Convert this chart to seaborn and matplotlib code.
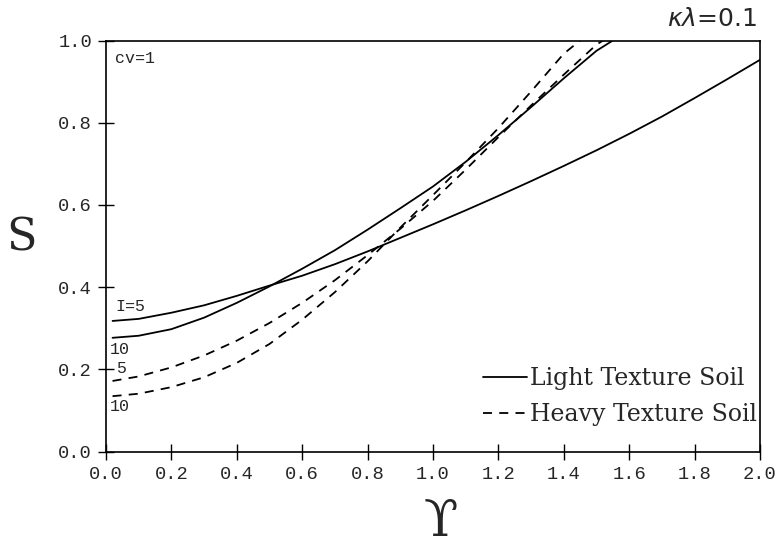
import numpy as np
import pandas as pd
import matplotlib
matplotlib.use("Agg")
import matplotlib.pyplot as plt
import seaborn as sns
from matplotlib.lines import Line2D

# ---- data ----
x_light5 = [0.02, 0.1, 0.2, 0.3, 0.4, 0.5, 0.6, 0.7, 0.8, 0.9, 1.0, 1.1, 1.2, 1.3, 1.4, 1.5, 1.6, 1.7, 1.8, 1.9, 2.0]
s_light5 = [0.318, 0.323, 0.338, 0.356, 0.379, 0.404, 0.428, 0.456, 0.487, 0.52, 0.553, 0.587, 0.622, 0.658, 0.695, 0.733, 0.773, 0.815, 0.86, 0.906, 0.953]

x_light10 = [0.02, 0.1, 0.2, 0.3, 0.4, 0.5, 0.6, 0.7, 0.8, 0.9, 1.0, 1.1, 1.2, 1.3, 1.4, 1.5, 1.55]
s_light10 = [0.277, 0.282, 0.298, 0.326, 0.362, 0.402, 0.445, 0.49, 0.54, 0.592, 0.645, 0.705, 0.77, 0.838, 0.908, 0.975, 1.0]

x_heavy5 = [0.02, 0.1, 0.2, 0.3, 0.4, 0.5, 0.6, 0.7, 0.8, 0.9, 1.0, 1.1, 1.2, 1.3, 1.4, 1.5, 1.52]
s_heavy5 = [0.172, 0.183, 0.205, 0.234, 0.27, 0.313, 0.362, 0.417, 0.478, 0.542, 0.61, 0.686, 0.765, 0.842, 0.917, 0.99, 1.0]

x_heavy10 = [0.02, 0.1, 0.2, 0.3, 0.4, 0.5, 0.6, 0.7, 0.8, 0.9, 1.0, 1.1, 1.2, 1.3, 1.4, 1.45]
s_heavy10 = [0.135, 0.141, 0.157, 0.181, 0.216, 0.262, 0.321, 0.388, 0.463, 0.545, 0.624, 0.704, 0.787, 0.876, 0.968, 1.0]

soil_names = ["Light Texture Soil", "Heavy Texture Soil"]
x_ticks = [0.0, 0.2, 0.4, 0.6, 0.8, 1.0, 1.2, 1.4, 1.6, 1.8, 2.0]
y_ticks = [0.0, 0.2, 0.4, 0.6, 0.8, 1.0]

frames = []
for xs, ss, soil, I in [(x_light5, s_light5, soil_names[0], 5),
                        (x_light10, s_light10, soil_names[0], 10),
                        (x_heavy5, s_heavy5, soil_names[1], 5),
                        (x_heavy10, s_heavy10, soil_names[1], 10)]:
    frames.append(pd.DataFrame({"x": xs, "S": ss, "soil": soil, "curve": f"{soil}-{I}"}))
df = pd.concat(frames, ignore_index=True)

sns.set_style("ticks")
plt.rcParams["font.family"] = ["DejaVu Serif", "DejaVu Sans"]
plt.rcParams["mathtext.fontset"] = "dejavusans"

fig = plt.figure(figsize=(7.81, 5.52), dpi=100)
ax = fig.add_axes([106 / 781, 1 - 451.7 / 552, (760 - 106) / 781, (451.7 - 40.5) / 552])

dash = (5, 4)
sns.lineplot(data=df, x="x", y="S", units="curve", estimator=None, style="soil",
             dashes={soil_names[0]: "", soil_names[1]: dash}, color="black",
             linewidth=1.3, sort=False, legend=False, ax=ax)

ax.set_xlim(0, 2.0)
ax.set_ylim(0, 1.0)
ax.set_xticks(x_ticks)
ax.set_yticks(y_ticks)
ax.set_xticklabels([f"{v:.1f}" for v in x_ticks], family="Liberation Mono")
ax.set_yticklabels([f"{v:.1f}" for v in y_ticks], family="Liberation Mono")
ax.tick_params(direction="inout", length=12, width=1.0, labelsize=13.5, pad=4,
               top=False, right=False, color="black")
for sp in ax.spines.values():
    sp.set_visible(True)
    sp.set_linewidth(1.2)
    sp.set_color("black")
ax.set_xlabel("")
ax.set_ylabel("")

fig.text(22 / 781, 1 - 238 / 552, "S", fontsize=32, family=["DejaVu Serif"],
         ha="center", va="center")
fig.text(441 / 781, 1 - 522 / 552, "\u03d2", fontsize=36, family=["DejaVu Serif", "DejaVu Sans"],
         ha="center", va="center")
fig.text(757 / 781, 1 - 19 / 552, r"$\kappa\lambda$=0.1", fontsize=18,
         family=["DejaVu Sans"], ha="right", va="center")

mono = "Liberation Mono"
ax.text(0.028, 0.957, "cv=1", fontsize=12, family=mono, ha="left", va="center")
ax.text(0.028, 0.352, "I=5", fontsize=12, family=mono, ha="left", va="center")
ax.text(0.012, 0.248, "10", fontsize=12, family=mono, ha="left", va="center")
ax.text(0.03, 0.203, "5", fontsize=12, family=mono, ha="left", va="center")
ax.text(0.012, 0.109, "10", fontsize=12, family=mono, ha="left", va="center")

handles = [Line2D([], [], color="black", lw=1.3),
           Line2D([], [], color="black", lw=1.3, dashes=dash)]
ax.legend(handles, soil_names, loc="lower right", frameon=False, fontsize=17,
          handlelength=1.9, handletextpad=0.1, labelspacing=0.55,
          borderpad=0, borderaxespad=0, bbox_to_anchor=(0.995, 0.062))

fig.savefig("out.png", dpi=100)
